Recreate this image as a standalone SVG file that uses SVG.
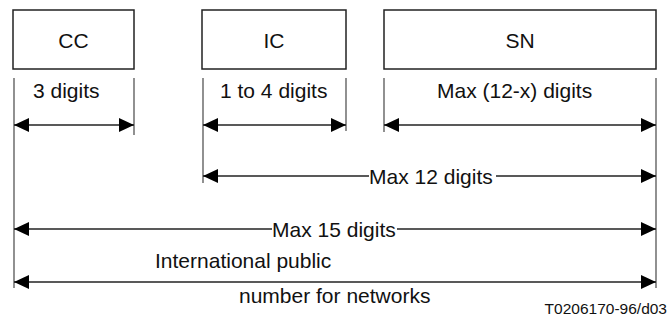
<svg xmlns="http://www.w3.org/2000/svg" width="670" height="320" viewBox="0 0 670 320">
<style>
.box{fill:#fff;stroke:#222;stroke-width:1.5}
.ext{stroke:#555;stroke-width:1.3;fill:none}
.dim{stroke:#222;stroke-width:1.3;fill:none}
.t{font-family:"Liberation Sans",Arial,sans-serif;font-size:21px;fill:#111}
.ref{font-family:"Liberation Sans",Arial,sans-serif;font-size:15.5px;fill:#111}
</style>
<defs>
<marker id="ah" markerUnits="userSpaceOnUse" markerWidth="16" markerHeight="15" refX="15" refY="7" orient="auto-start-reverse" viewBox="0 0 16 15">
<path d="M0,0 L15,7 L0,14 z" fill="#000"/>
</marker>
</defs>
<rect width="670" height="320" fill="#fff"/>
<g id="node-cc">
<rect class="box" x="13" y="10" width="121" height="59"/>
<text class="t" x="73.5" y="48" text-anchor="middle">CC</text>
</g>
<g id="node-ic">
<rect class="box" x="202" y="10" width="144" height="59"/>
<text class="t" x="274" y="48" text-anchor="middle">IC</text>
</g>
<g id="node-sn">
<rect class="box" x="384" y="10" width="272" height="59"/>
<text class="t" x="520" y="48" text-anchor="middle">SN</text>
</g>
<g id="extension-lines">
<line class="ext" x1="14" y1="78" x2="14" y2="288"/>
<line class="ext" x1="134" y1="78" x2="134" y2="135"/>
<line class="ext" x1="203" y1="78" x2="203" y2="183"/>
<line class="ext" x1="346" y1="78" x2="346" y2="131"/>
<line class="ext" x1="384" y1="78" x2="384" y2="132"/>
<line class="ext" x1="656" y1="78" x2="656" y2="288"/>
</g>
<g id="connectors">
<line class="dim" x1="14" y1="125" x2="134" y2="125" marker-start="url(#ah)" marker-end="url(#ah)"/>
<line class="dim" x1="203" y1="125" x2="346" y2="125" marker-start="url(#ah)" marker-end="url(#ah)"/>
<line class="dim" x1="384" y1="125" x2="656" y2="125" marker-start="url(#ah)" marker-end="url(#ah)"/>
<line class="dim" x1="203" y1="176" x2="369" y2="176" marker-start="url(#ah)"/>
<line class="dim" x1="496" y1="176" x2="656" y2="176" marker-end="url(#ah)"/>
<line class="dim" x1="14" y1="229" x2="272" y2="229" marker-start="url(#ah)"/>
<line class="dim" x1="397" y1="229" x2="656" y2="229" marker-end="url(#ah)"/>
<line class="dim" x1="14" y1="282" x2="656" y2="282" marker-start="url(#ah)" marker-end="url(#ah)"/>
</g>
<g id="labels">
<text class="t" x="33" y="98">3 digits</text>
<text class="t" x="220" y="98">1 to 4 digits</text>
<text class="t" x="437" y="98">Max (12-x) digits</text>
<text class="t" x="369" y="184">Max 12 digits</text>
<text class="t" x="272" y="237">Max 15 digits</text>
<text class="t" x="155" y="268">International public</text>
<text class="t" x="239" y="303">number for networks</text>
<text class="ref" x="667" y="314" text-anchor="end">T0206170-96/d03</text>
</g>
</svg>
